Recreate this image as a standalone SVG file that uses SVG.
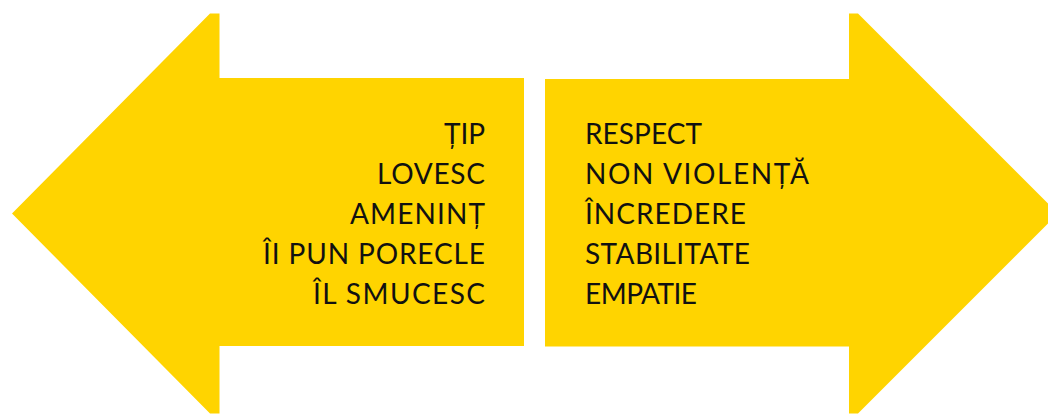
<svg xmlns="http://www.w3.org/2000/svg" width="1048" height="414" viewBox="0 0 1048 414">
<style>
.arrow{fill:#FFD400;stroke:none}
.t{font-family:Lato,"Open Sans","Liberation Sans",sans-serif;font-size:28px;fill:#111}
.r{text-anchor:end}
</style>
<rect width="1048" height="414" fill="#fff"/>
<g id="left-arrow">
<polygon class="arrow" points="12,213.5 210,13.5 219.5,13.5 219.5,78 524,78 524,346 219.5,346 219.5,413.5 210,413.5"/>
<text class="t r" x="485" y="144" textLength="41" lengthAdjust="spacing">ȚIP</text>
<text class="t r" x="485" y="184" textLength="108" lengthAdjust="spacing">LOVESC</text>
<text class="t r" x="485" y="224" textLength="135" lengthAdjust="spacing">AMENINȚ</text>
<text class="t r" x="485" y="264" textLength="222" lengthAdjust="spacing">ÎI PUN PORECLE</text>
<text class="t r" x="485" y="304" textLength="172" lengthAdjust="spacing">ÎL SMUCESC</text>
</g>
<g id="right-arrow">
<polygon class="arrow" points="545,79 849,79 849,13.5 858,13.5 1058,213.5 858,413.5 849,413.5 849,346.5 545,346.5"/>
<text class="t" x="585" y="144" textLength="117" lengthAdjust="spacing">RESPECT</text>
<text class="t" x="585" y="184" textLength="224" lengthAdjust="spacing">NON VIOLENȚĂ</text>
<text class="t" x="585" y="224" textLength="161" lengthAdjust="spacing">ÎNCREDERE</text>
<text class="t" x="585" y="264" textLength="165" lengthAdjust="spacing">STABILITATE</text>
<text class="t" x="585" y="304" textLength="112" lengthAdjust="spacing">EMPATIE</text>
</g>
<g id="connectors"></g>
</svg>
